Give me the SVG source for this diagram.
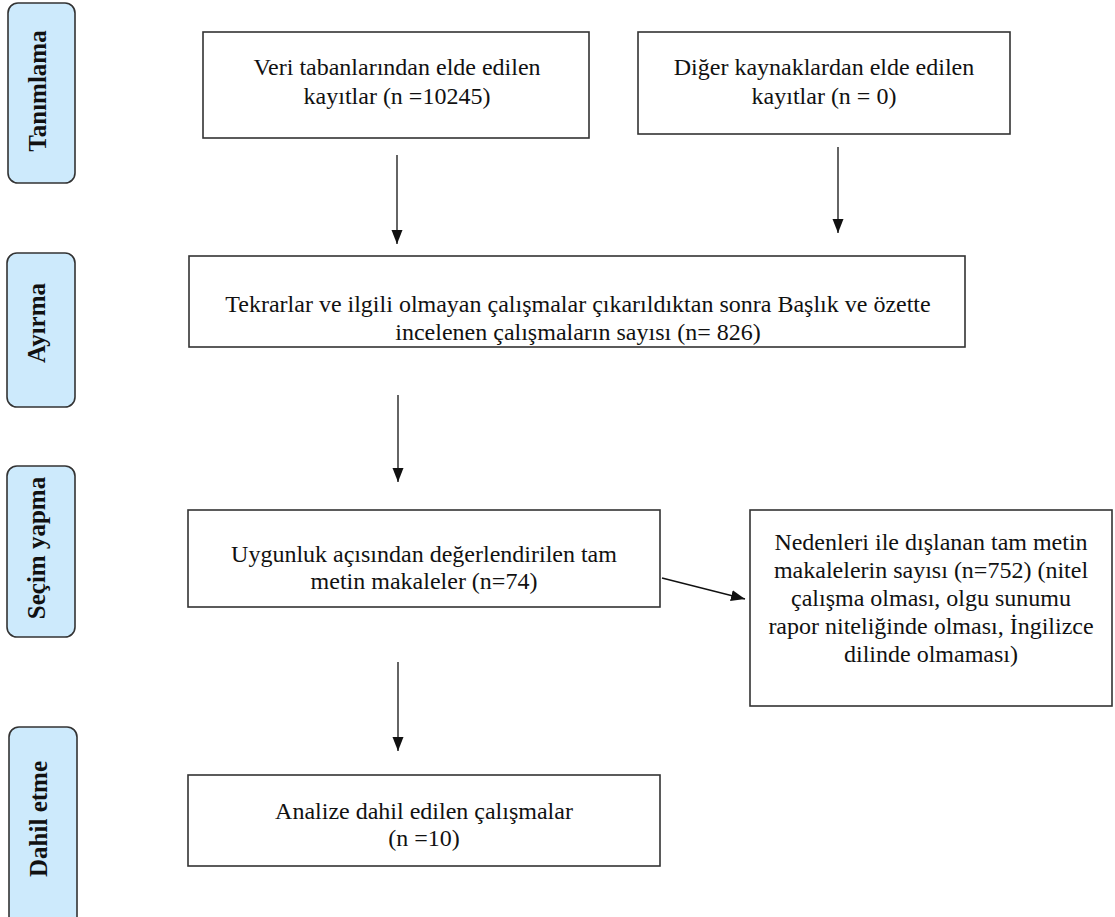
<svg xmlns="http://www.w3.org/2000/svg" width="1115" height="917" viewBox="0 0 1115 917">
<style>
.box{fill:#fff;stroke:#333;stroke-width:1.6}
.side{fill:#cdeafc;stroke:#333;stroke-width:1.6}
.t{font-family:'Liberation Serif','Times New Roman',Tinos,'DejaVu Serif',serif;font-size:24px;fill:#111;text-anchor:middle}
.s{font-family:'Liberation Serif','Times New Roman',Tinos,'DejaVu Serif',serif;font-size:25px;font-weight:bold;fill:#111;text-anchor:middle}
.c{stroke:#111;stroke-width:1.3;fill:none;marker-end:url(#ah)}
</style>
<defs>
<marker id="ah" markerWidth="16" markerHeight="14" refX="14" refY="6.5" orient="auto" markerUnits="userSpaceOnUse">
<path d="M0,1 L14,6.5 L0,12 Z" fill="#111"/>
</marker>
</defs>
<rect width="1115" height="917" fill="#fff"/>
<g id="side-tanimlama"><rect class="side" x="8" y="3" width="67" height="180" rx="10"/><text class="s" transform="translate(46,91) rotate(-90)">Tanımlama</text></g>
<g id="side-ayirma"><rect class="side" x="7" y="253" width="68" height="154" rx="10"/><text class="s" transform="translate(45,323) rotate(-90)">Ayırma</text></g>
<g id="side-secim"><rect class="side" x="7" y="466" width="68" height="171" rx="10"/><text class="s" transform="translate(45,548) rotate(-90)">Seçim yapma</text></g>
<g id="side-dahil"><rect class="side" x="9" y="727" width="68" height="200" rx="10"/><text class="s" transform="translate(47,819) rotate(-90)">Dahil etme</text></g>
<g id="n1"><rect class="box" x="203" y="32" width="386" height="106"/><text class="t" x="397" y="75">Veri tabanlarından elde edilen</text><text class="t" x="397" y="104">kayıtlar (n =10245)</text></g>
<g id="n2"><rect class="box" x="638" y="32" width="372" height="102"/><text class="t" x="824" y="75">Diğer kaynaklardan elde edilen</text><text class="t" x="824" y="104">kayıtlar (n = 0)</text></g>
<g id="n3"><rect class="box" x="189" y="256" width="776" height="91"/><text class="t" x="578" y="312">Tekrarlar ve ilgili olmayan çalışmalar çıkarıldıktan sonra Başlık ve özette</text><text class="t" x="578" y="340">incelenen çalışmaların sayısı (n= 826)</text></g>
<g id="n4"><rect class="box" x="188" y="510" width="472" height="97"/><text class="t" x="424" y="562">Uygunluk açısından değerlendirilen tam</text><text class="t" x="424" y="589">metin makaleler (n=74)</text></g>
<g id="n5"><rect class="box" x="750" y="510" width="362" height="196"/><text class="t" x="931" y="550">Nedenleri ile dışlanan tam metin</text><text class="t" x="931" y="578">makalelerin sayısı (n=752) (nitel</text><text class="t" x="931" y="606">çalışma olması, olgu sunumu</text><text class="t" x="931" y="634">rapor niteliğinde olması, İngilizce</text><text class="t" x="931" y="662">dilinde olmaması)</text></g>
<g id="n6"><rect class="box" x="188" y="775" width="472" height="91"/><text class="t" x="424" y="819">Analize dahil edilen çalışmalar</text><text class="t" x="424" y="846">(n =10)</text></g>
<g id="connectors">
<line class="c" x1="397" y1="155" x2="397" y2="244"/>
<line class="c" x1="838" y1="147" x2="838" y2="233"/>
<line class="c" x1="398" y1="395" x2="398" y2="482"/>
<line class="c" x1="662" y1="578" x2="745" y2="599"/>
<line class="c" x1="398" y1="662" x2="398" y2="751"/>
</g>
</svg>
